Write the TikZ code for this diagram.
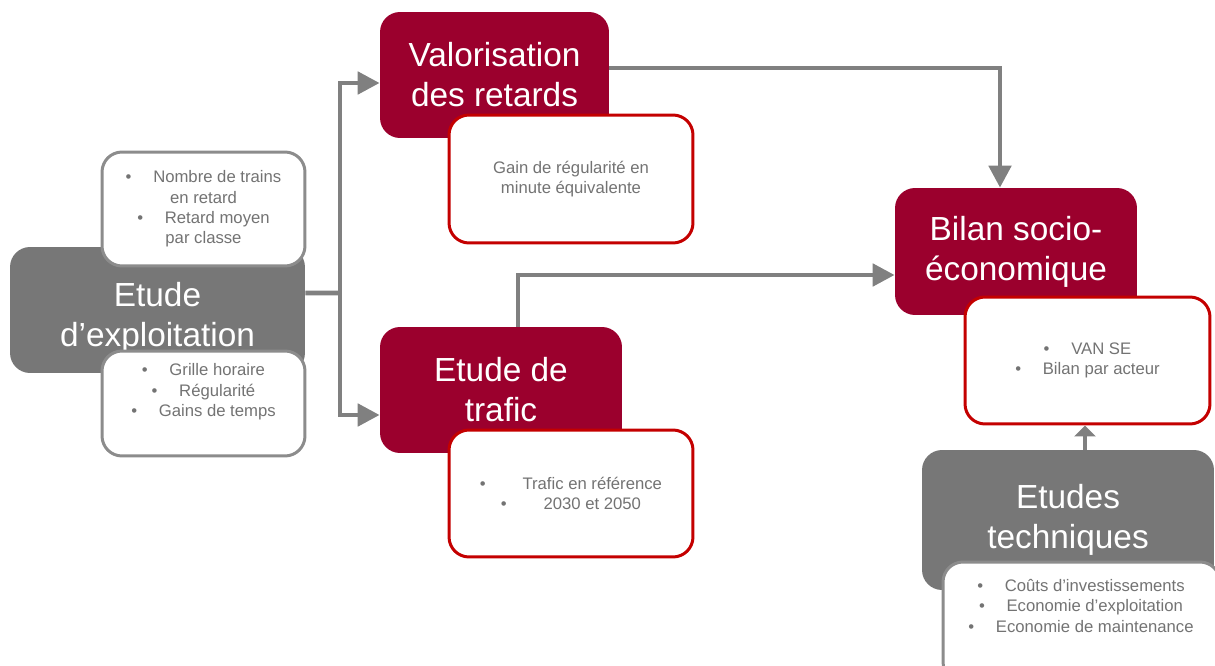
\documentclass[tikz,border=0pt]{standalone}
\usepackage{fontspec}
\setmainfont{Liberation Sans}
\usetikzlibrary{arrows.meta}
\definecolor{bordeaux}{RGB}{155,0,45}
\definecolor{rougevif}{RGB}{196,0,0}
\definecolor{grisfonce}{RGB}{119,119,119}
\definecolor{grisbord}{RGB}{140,140,140}
\definecolor{gristexte}{RGB}{115,115,115}
\definecolor{grisfleche}{RGB}{128,128,128}
\newcommand{\puce}[1][1.3em]{\textbullet\hspace{#1}}

\begin{document}
\begin{tikzpicture}[x=0.02cm,y=-0.02cm,
  titre/.style={rounded corners=0.4cm,align=center,text=white,
    font=\fontsize{19}{22.7}\selectfont,inner sep=0pt},
  rouge/.style={titre,fill=bordeaux},
  gris/.style={titre,fill=grisfonce},
  note/.style={align=center,text=gristexte,
    font=\fontsize{9.5}{11.6}\selectfont,inner sep=0pt},
  detail/.style={note,rounded corners=0.4cm,fill=white,line width=1.7pt},
  detailr/.style={detail,draw=rougevif},
  detailg/.style={detail,draw=grisbord},
  fleche/.style={draw=grisfleche,line width=2.8pt,
    -{Triangle[length=0.44cm,width=0.44cm]}}]
 \useasboundingbox (0,0) rectangle (1215,666);
 \clip (0,0) rectangle (1215,666);
 % etude d'exploitation
 \node[gris,minimum width=5.9cm,minimum height=2.52cm,text height=45pt] (expl) at (157.5,310)
   {Etude\\d’exploitation};
 \node[detailg,minimum width=4.06cm,minimum height=2.28cm] (explhaut) at (203.5,209)
   {\puce Nombre de trains\\en retard\\\puce Retard moyen\\par classe};
 \node[detailg,minimum width=4.06cm,minimum height=2.1cm] (explbas) at (203.5,403.5) {};
 \node[note] (explbastxt) at (203.5,392)
   {\puce Grille horaire\\\puce Régularité\\\puce Gains de temps};
 % valorisation
 \node[rouge,minimum width=4.58cm,minimum height=2.52cm] (valo) at (494.5,75)
   {Valorisation\\des retards};
 \node[detailr,minimum width=4.88cm,minimum height=2.56cm] (valow) at (571,179)
   {Gain de régularité en\\minute équivalente};
 % trafic
 \node[rouge,minimum width=4.84cm,minimum height=2.52cm] (trafic) at (501,390)
   {Etude de\\trafic};
 \node[detailr,minimum width=4.88cm,minimum height=2.54cm] (traficw) at (571,493.5)
   {\puce[2.2em]Trafic en référence\\\puce[2.2em]2030 et 2050};
 % bilan
 \node[rouge,minimum width=4.84cm,minimum height=2.54cm] (bilan) at (1016,251.5)
   {Bilan socio-\\économique};
 \node[detailr,minimum width=4.9cm,minimum height=2.54cm] (bilanw) at (1087.5,360.5)
   {\puce VAN SE\\\puce Bilan par acteur};
 % etudes techniques
 \node[gris,minimum width=5.84cm,minimum height=2.8cm] (tech) at (1068,520)
   {Etudes\\techniques};
 \node[detailg,minimum width=5.54cm,minimum height=2.4cm] (techw) at (1081.5,622) {};
 \node[note] (techtxt) at (1081,606)
   {\puce Coûts d’investissements\\\puce Economie d’exploitation\\\puce Economie de maintenance};
 % liaisons
 \coordinate (fourche) at (340,293);
 \draw[grisfleche,line width=2.8pt] ([yshift=0.34cm]expl.east) -- (fourche);
 \draw[fleche] (fourche) |- ([yshift=-0.16cm]valo.west);
 \draw[fleche] (fourche) |- ([yshift=-0.5cm]trafic.west);
 \draw[fleche] ([yshift=0.14cm]valo.east) -| ([xshift=-0.32cm]bilan.north);
 \draw[fleche] ([xshift=0.34cm]trafic.north) |- ([yshift=-0.47cm]bilan.west);
 \coordinate (pied) at ([xshift=-0.05cm]bilanw.south);
 \draw[fleche,-{Triangle[length=0.22cm,width=0.42cm]}] (pied |- tech.north) -- (pied);
\end{tikzpicture}
\end{document}
